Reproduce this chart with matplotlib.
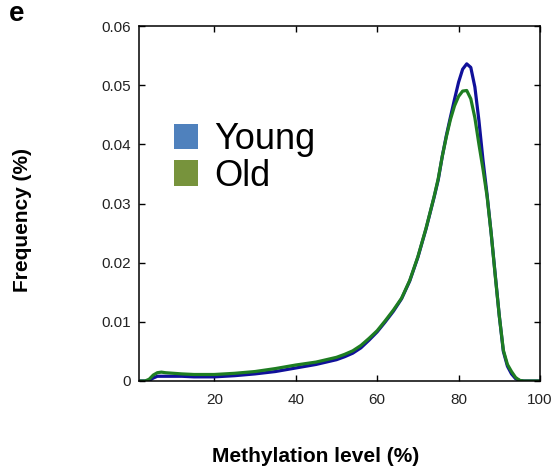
import matplotlib.pyplot as plt
from matplotlib.patches import Patch

plt.rcParams['font.family'] = ['Liberation Sans', 'DejaVu Sans']

# methylation level (%) and frequency for each group
level = [2, 3, 4, 5, 6, 7, 8, 10, 12, 15, 20, 25, 30, 35, 40, 45, 50, 52, 54,
         56, 58, 60, 62, 64, 66, 68, 70, 72, 73, 74, 75, 76, 77, 78, 79, 80,
         81, 82, 83, 84, 85, 86, 87, 88, 89, 90, 91, 92, 93, 94, 95, 96, 98,
         100]
young = [0.0, 0.0, 0.0001, 0.0005, 0.0008, 0.0008, 0.0008, 0.0008, 0.0008,
         0.0007, 0.0007, 0.0009, 0.0012, 0.0016, 0.0022, 0.0028, 0.0036,
         0.0041, 0.0047, 0.0056, 0.0069, 0.0083, 0.0100, 0.0118, 0.0139,
         0.0169, 0.0209, 0.0257, 0.0284, 0.0311, 0.0340, 0.0380, 0.0415,
         0.0446, 0.0476, 0.0505, 0.0527, 0.0536, 0.0530, 0.0497, 0.0440,
         0.0373, 0.0315, 0.0250, 0.0180, 0.0110, 0.0050, 0.0025, 0.0012,
         0.0004, 0.0001, 0.0, 0.0, 0.0]
old = [0.0, 0.0, 0.0003, 0.0010, 0.0014, 0.0015, 0.0014, 0.0013, 0.0012,
       0.0011, 0.0011, 0.0013, 0.0016, 0.0021, 0.0027, 0.0032, 0.0040,
       0.0045, 0.0051, 0.0060, 0.0072, 0.0085, 0.0102, 0.0120, 0.0140,
       0.0170, 0.0210, 0.0258, 0.0285, 0.0312, 0.0342, 0.0380, 0.0413,
       0.0442, 0.0465, 0.0481, 0.0490, 0.0491, 0.0477, 0.0445, 0.0400,
       0.0358, 0.0312, 0.0250, 0.0178, 0.0110, 0.0052, 0.0028, 0.0016,
       0.0006, 0.0001, 0.0, 0.0, 0.0]

xticks = [20, 40, 60, 80, 100]
yticks = [0, 0.01, 0.02, 0.03, 0.04, 0.05, 0.06]

fig = plt.figure(figsize=(5.53, 4.71), dpi=100)
ax = fig.add_axes([139 / 553, 90 / 471, 401 / 553, 355 / 471])

ax.plot(level, young, color='#10109a', lw=2.3)
ax.plot(level, old, color='#1e7d22', lw=2.3)

ax.set_xlim(1.5, 100)
ax.set_ylim(0, 0.06)
ax.set_xticks(xticks)
ax.set_xticklabels([str(t) for t in xticks])
ax.set_yticks(yticks)
ax.set_yticklabels(['0', '0.01', '0.02', '0.03', '0.04', '0.05', '0.06'])
ax.tick_params(direction='in', top=True, right=True, length=4, width=1,
               labelsize=11, labelcolor='#222222')
ax.tick_params(axis='x', pad=9)
ax.tick_params(axis='y', pad=6)
for s in ax.spines.values():
    s.set_linewidth(1.1)

handles = [Patch(facecolor='#4f81bd', label='Young'),
           Patch(facecolor='#77933c', label='Old')]
ax.legend(handles=handles, loc='upper left', bbox_to_anchor=(0.043, 0.78),
          frameon=False, fontsize=26, handlelength=0.65, handleheight=0.72,
          handletextpad=0.45, labelspacing=0.05, borderpad=0)

fig.text(316 / 553, 1 - 456 / 471, 'Methylation level (%)', ha='center',
         va='center', fontsize=15, fontweight='bold')
fig.text(23 / 553, 1 - 220 / 471, 'Frequency (%)', ha='center', va='center',
         rotation=90, fontsize=15, fontweight='bold')
fig.text(9 / 553, 1 - 21 / 471, 'e', ha='left', va='baseline', fontsize=20,
         fontweight='bold')

fig.savefig('out.png', dpi=100)
